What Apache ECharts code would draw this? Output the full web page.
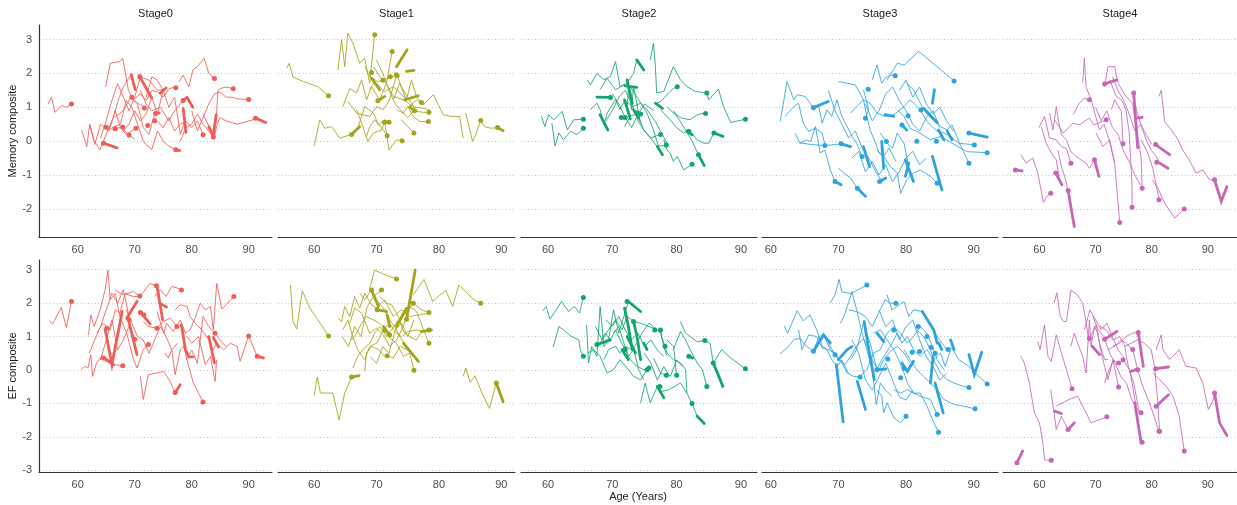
<!DOCTYPE html>
<html><head><meta charset="utf-8">
<script src="https://cdn.jsdelivr.net/npm/echarts@6/dist/echarts.min.js"></script>
<style>html,body{margin:0;padding:0;background:#fff}#main{width:1237px;height:505px}</style>
</head><body><div id="main"></div>
<script>
const stages = ['Stage0','Stage1','Stage2','Stage3','Stage4'];
const measures = ['Memory composite','EF composite'];
const xTitle = 'Age (Years)';
const stageColors = ['#EE5D56','#A4A41A','#13A66B','#2FA3DE','#C766B7'];

const memLines0 = [
 [[54.8,1.1],[55.4,1.3],[56,0.85],[57.2,1.05],[58,1.0],[58.9,1.1]],
 [[64.9,1.6],[65.7,2.3],[67.4,2.35],[67.9,2.45],[68.9,1.5],[69.8,1.2],[71.7,1.0]],
 [[60.7,0.32],[61.6,-0.16],[62.1,0.5],[62.8,0.05],[63.9,-0.26],[65.1,0.25],[66.3,0.72],[67.1,1.2],[68,1.6],[69.5,2.0]],
 [[62.2,0.45],[63,-0.1],[64,0.5],[65.5,0.3],[66.6,0.9],[67.5,0.4],[68.5,0.2],[70.2,0.38]],
 [[64,0.1],[65,0.6],[66,1.2],[67,1.7],[68,1.3],[69,0.9],[70,1.3],[71,1.9],[72.5,1.8],[74,1.5],[75.5,1.55]],
 [[66,0.4],[67.5,0.5],[68.5,1.2],[69.5,1.0],[70.5,0.5],[71.5,0.0],[72,-0.1],[73,-0.25],[74,0.3],[75,0.0],[76,-0.15],[77.2,-0.25]],
 [[70,1.25],[71,1.4],[72,1.2],[73,1.5],[74,1.45],[75,1.3],[76,1.55],[77.2,1.6]],
 [[72,1.3],[73,1.9],[74,1.8],[75,1.5],[76,1.0],[77,1.3],[78,0.2],[79,0.7]],
 [[77.8,1.75],[78.5,1.95],[79.5,1.6],[80.2,2.1],[81,2.2],[82.2,2.45],[83,2.0],[84,1.85]],
 [[74,0.6],[75,0.4],[76,0.7],[77,0.3],[78,0.5],[79,0.6],[80,0.4],[81,0.6],[82,0.2]],
 [[78,0],[79,0.4],[80,0.5],[81,0.8],[82,0.5],[83,0.3],[83.8,0.1],[84.3,0.6],[84.6,1.5],[85,1.55],[86,1.6],[87.3,1.55]],
 [[80,0.9],[81,0.3],[82,0.7],[83,1.1],[84,1.4],[85,1.45],[86,1.3],[87,1.3],[88,1.25],[90,1.23]],
 [[82,0.8],[83,0.45],[84,0.15],[84.5,0.5],[85,0.7],[86,0.6],[87,0.55],[88,0.5],[89,0.55],[91.2,0.65]],
 [[68,0.3],[69,0.5],[70,0.9],[71,0.6],[72,0.8],[73,1.3],[74,0.8],[75,1.5]],
 [[64.5,0.45],[66,0.35],[67.5,0.4],[69,0.2],[70,0.05]],
 [[71,1.5],[72,1.1],[73,0.9],[74.5,1.0],[76,0.6],[77,0.9],[78.5,1.2]],
 [[66.5,0.7],[68,0.9],[69.3,1.3],[70.5,1.1],[71.5,0.4],[72.5,0.2],[73.5,0.8]]
];
const memThick0 = [[[69.4,1.96],[70.1,1.52]],[[70.8,1.93],[73.0,1.27]],[[78.5,0.97],[79.0,0.26]],[[78.4,1.2],[79.2,1.29],[80.2,1.0]],[[64.5,-0.06],[66.9,-0.2]],[[83.0,0.43],[83.8,0.14]],[[84.3,0.78],[83.8,0.2]],[[91.2,0.68],[93.0,0.55]],[[74.5,1.42],[75.5,1.57]],[[73.5,0.83],[74.3,0.83]],[[77.2,-0.25],[77.9,-0.28]]];
const memDots0 = [[58.9,1.1],[84,1.85],[87.3,1.55],[90,1.23],[71.7,0.98],[77.2,1.58],[65,0.41],[66.6,0.37],[67.9,0.42],[70.2,0.38],[72.3,0.46],[73.5,0.6],[69,0.18],[64.5,-0.06],[77.2,-0.25],[82,0.19],[83.8,0.12],[91.2,0.68],[78.5,1.2],[73.7,0.82],[69.5,1.3],[70.9,1.9]];

const memLines1 = [
 [[55.6,2.16],[56.0,2.3],[56.6,1.89],[58.3,1.76],[60.6,1.61],[62.3,1.34]],
 [[60,-0.14],[60.9,0.63],[61.7,0.38],[62.8,0.43],[64.1,0.09],[66,0.2]],
 [[63.8,2.1],[64.4,3.0],[64.9,2.2],[65.4,3.19],[66.2,2.9],[67.3,2.3],[68.1,2.45],[68.9,1.71],[69.7,3.14]],
 [[64.6,1.02],[65.7,1.56],[66.8,1.42],[67.6,1.81],[68.4,1.22],[69.2,1.61],[70.5,1.22],[71.6,1.71],[72.5,2.65]],
 [[65.4,1.17],[66.8,0.83],[67.8,0.78],[68.9,0.73],[70,1.02],[71.1,0.93],[72.1,1.22],[73.2,1.96]],
 [[66.8,0.93],[67.6,0.53],[68.6,-0.01],[69.5,0.24],[70.8,0.33],[71.3,0.58],[72,-0.26],[73.2,0.04],[74.1,0.01]],
 [[66.9,0.33],[68.1,1.02],[69.5,0.83],[70.3,0.48],[71.3,0.63],[72,0.56]],
 [[68.4,0.14],[68.9,0.43],[69.7,0.63],[71.1,0.33],[71.7,0.16]],
 [[72.7,1.22],[73.7,1.71],[74.8,1.22],[75.6,1.81],[76.4,1.32],[77.2,1.14]],
 [[73.2,0.93],[74.3,0.83],[75,1.02],[75.9,0.73],[76.9,0.58],[78.3,0.58]],
 [[74,0.63],[75,0.43],[76,0.24]],
 [[75.3,1.02],[76.4,1.22],[77.5,1.07],[79.1,1.37],[80.7,0.78],[82,0.73],[83.3,0.73],[83.9,0.09]],
 [[84.3,0.83],[85.4,-0.01],[86,0.24],[86.7,0.61],[87.3,0.43],[88.4,0.38],[89.4,0.4]],
 [[68.9,1.52],[69.7,1.76],[70.5,1.61],[71.3,1.47],[72.7,1.61],[74.3,1.32],[75.3,1.22],[76.4,0.88],[77.5,0.85],[78.4,0.85]],
 [[69.5,2.2],[70.5,1.91],[71.6,1.71],[72.7,1.32],[74.3,1.22],[75.9,1.02],[77.5,0.97],[78.4,0.93]],
 [[68.1,2.2],[68.9,1.91],[70.2,1.76],[71,1.8],[72.2,1.9],[73.3,1.93],[74,1.6],[75,1.3]],
 [[70,2.4],[71,2.0],[72,1.5],[73,1.1],[74,0.9],[75,0.7],[76,0.9]]
];
const memThick1 = [[[69.2,1.86],[70.5,1.52]],[[73.2,2.2],[74.9,2.7]],[[74.8,2.06],[76,2.09]],[[74.5,1.22],[76.7,1.34]],[[70.5,1.22],[71.3,1.32]],[[75.3,1.02],[76.1,0.88]],[[66,0.2],[67.3,0.43]],[[89.4,0.4],[90.3,0.31]]];
const memDots1 = [[62.3,1.34],[69.7,3.14],[72.5,2.65],[73.2,1.96],[74.1,0.01],[72,0.56],[71.7,0.16],[77.2,1.14],[78.3,0.58],[76,0.24],[86.7,0.61],[89.4,0.4],[78.4,0.85],[69.2,2.03],[71,1.8],[72.2,1.9],[73.3,1.93],[70.2,1.19],[71.3,0.56],[76.1,0.9],[66,0.2]];

const memLines2 = [
 [[59,0.73],[59.5,0.43],[60.1,0.78],[60.9,0.63],[62.2,0.88],[63,0.33],[64,0.63],[65.5,0.65]],
 [[60.6,0.53],[61.1,-0.14],[61.7,0.24],[62.4,0.04],[63.5,0.29],[64.5,0.19],[65.5,0.38]],
 [[66.1,1.81],[66.6,1.66],[67.6,2.0],[68.7,1.81],[69.7,1.91],[70.5,2.35],[71.2,1.61],[72.3,1.71],[73.3,2.0],[73.8,2.4]],
 [[66.6,0.93],[67.6,1.12],[68.1,0.93],[68.7,0.48],[69.2,0.83],[70.5,1.22],[71.2,0.93],[72,1.22],[73.1,1.02],[74.4,1.12],[75.4,0.93],[76.7,0.58],[77.5,0.29],[78.5,-0.06]],
 [[68.1,1.52],[69.2,1.86],[70.5,1.52],[71.8,1.66],[72.8,1.61],[74.1,1.22],[75.4,0.83],[76.4,0.33],[77.2,-0.16]],
 [[75.9,2.4],[76.4,2.89],[76.7,2.2],[76.9,1.42],[78,1.47],[79.5,2.2],[80.6,1.81],[81.6,1.61],[82.9,1.47],[84.7,1.42],[85,1.22],[86.5,1.54],[87.3,1.02],[88.4,0.55],[90.7,0.65]],
 [[76.9,1.12],[77.5,1.17],[78.5,1.37],[79.5,1.56],[80.1,1.61]],
 [[77.5,0.93],[79,0.63],[80.1,0.38],[81.1,0.24],[81.9,0.33],[83.2,0.04],[84.2,-0.06],[85,-0.06],[85.8,0.24]],
 [[78,0.04],[78.5,-0.26],[79,-0.35],[79.5,-0.6],[80.1,-0.45],[81.1,-0.85],[82.4,-0.68]],
 [[78.5,1.02],[79.5,0.83],[80.8,0.68],[82.1,0.63],[83.2,0.78],[84.5,0.83]],
 [[71.8,1.22],[72.3,0.93],[72.5,1.56],[73,0.93],[73.3,1.61],[74.4,0.53]],
 [[71.9,0.43],[72.8,0.73],[73.8,0.83],[74.9,0.33],[75.7,0.14],[77,-0.16],[78.4,-0.11]],
 [[79.5,0.9],[80.5,0.6],[81.4,0.33],[82.4,0.0],[83.4,-0.4]],
 [[69,0.6],[70,0.9],[71,1.3],[72,1.5],[73,1.1],[74,0.6],[75,0.3],[76,0.1],[77.5,0.2]],
 [[70,1.4],[71,1.1],[72,0.7],[73,0.4],[74,0.8],[75,1.1],[76.5,0.9]]
];
const memThick2 = [[[67.6,1.3],[69.7,1.29]],[[72,1.63],[73.8,1.59]],[[72.3,1.81],[73.1,1.12]],[[73.3,0.93],[74.1,0.68]],[[73.8,2.4],[74.9,2.1]],[[68.1,0.78],[69.3,0.33]],[[76.7,1.12],[77.8,0.97]],[[77,-0.16],[77.8,-0.4]],[[85.8,0.24],[87.2,0.14]],[[83.4,-0.4],[84.3,-0.72]],[[81.6,0.29],[82.4,0.19]],[[71.9,1.22],[72.8,0.66]]];
const memDots2 = [[65.5,0.65],[65.5,0.38],[84.7,1.42],[90.7,0.65],[80.1,1.61],[84.5,0.82],[77.5,0.2],[78.4,-0.11],[82.4,-0.68],[72,0.7],[71.4,0.7],[73.8,0.83],[74.4,0.8],[81.9,0.29],[83.4,-0.4],[85.8,0.24],[69.7,1.29]];

const memLines3 = [
 [[61.4,0.58],[62.4,1.76],[63.4,1.22],[63.9,1.37],[65.1,1.32],[65.8,1.12],[66.3,0.99]],
 [[62.1,0.73],[63.4,1.02],[64.1,1.12],[64.8,0.53],[65.6,0.29],[66.6,0.38],[67.6,0.24],[68,-0.11]],
 [[63.6,0.24],[64.3,-0.06],[65.3,0.04],[65.9,-0.01],[66.6,0.43],[67.3,-0.35],[68,-0.26],[68.8,-0.85],[69.5,-1.19]],
 [[67.1,1.02],[67.6,0.53],[68.3,0.93],[69,0.73],[69.8,1.22],[70.5,0.73],[71.3,0.43],[72,0.14],[72.7,-0.06],[73.5,-0.45]],
 [[70,-0.8],[70.8,-0.94],[71.8,-1.09],[72.8,-1.39]],
 [[70,1.76],[71.3,1.71],[72.5,1.66],[73.7,1.22],[74.2,0.73],[74.7,0.33],[75.5,-0.06],[76,-0.35],[76.7,-0.45],[77.5,-0.2],[78.5,-0.6]],
 [[75,1.81],[75.7,2.25],[76.4,1.71],[76.9,1.86],[77.7,1.96],[78.4,1.93]],
 [[77.2,1.81],[78.7,2.3],[79.7,2.25],[81.9,2.65],[87.1,1.78]],
 [[71.8,0.83],[72.7,1.02],[73.7,1.22],[74.7,1.12],[75.7,0.83],[76.9,0.73],[78.2,0.78],[79.7,1.02],[80.6,1.22],[82.1,0.93],[83.1,0.58],[84.6,0.29],[85.6,0.24],[86.6,0.14],[87.8,-0.06],[90.1,-0.11]],
 [[78.7,0.93],[79.7,0.73],[80.6,0.38],[81.6,0.29],[83.6,0.04],[85.1,0.14],[86.8,-0.06],[89,-0.31],[92,-0.34]],
 [[80.1,1.71],[81.1,1.52],[82.6,0.93],[83.9,0.63],[85.1,0.43],[86.1,0.33],[86.8,0.48],[88,-0.1],[89.3,-0.65]],
 [[75.7,-0.26],[76.7,-0.45],[77.7,-0.75],[78.7,-0.94],[79.2,-1.54],[80.1,-1.14],[81.1,-0.94],[82.1,-0.85],[83.6,-1.04],[84.6,-1.24]],
 [[76.2,0.24],[77.2,-0.06],[78,-0.21],[78.7,0.24],[79.7,-0.06],[80.4,-0.75],[81.1,-1.19]],
 [[73.7,1.52],[74.5,0.93],[74,0.68]],
 [[64.3,-0.05],[66,-0.1],[68,-0.13],[70.4,-0.08]],
 [[68.5,1.5],[69.5,0.9],[70.5,0.5],[71.5,0.1],[72.5,0.3],[73.5,-0.2],[74.5,-0.5],[75.5,-0.9],[76.5,-1.2]],
 [[74,1.1],[75,0.6],[76,0.9],[77,1.4],[78,1.6],[79,1.2],[80,0.9],[81,0.5],[82,0.3],[83,0.7],[84,0.9],[85,0.4]],
 [[72,-0.5],[73,-0.3],[74,-0.9],[75,-0.6],[76,-1.0],[77,-0.7],[78,-1.2],[79,-0.9],[80,-0.5],[81,-0.3],[82,-0.7],[83,-0.5]],
 [[79,1.5],[80,1.8],[81,1.3],[82,1.6],[83,1.1],[84,0.8],[85,1.0],[86,0.6],[87,0.3]]
];
const memThick3 = [[[66.3,0.99],[68.5,1.17]],[[69.5,-1.19],[70.4,-1.29]],[[72.8,-1.39],[74,-1.63]],[[73.7,-0.16],[74.6,-0.75]],[[76.4,-0.01],[76.7,-0.8]],[[76.1,-1.19],[77,-1.09]],[[79.4,0.48],[80.1,0.33]],[[82.6,0.97],[84.6,0.55]],[[83.9,1.12],[84.2,1.52]],[[84.8,0.33],[85.6,0.04]],[[83.9,-0.45],[85.3,-1.44]],[[79.9,-0.55],[81.1,-1.19]],[[80.4,-0.65],[79.9,-1.04]],[[89.3,0.24],[92,0.12]],[[86.1,0.29],[86.8,0.04]],[[76.9,0.78],[78.2,0.73]],[[70.4,-0.08],[71.8,-0.16]]];
const memDots3 = [[66.3,0.99],[69.5,-1.19],[72.8,-1.39],[73.5,-0.45],[78.4,1.93],[87.1,1.78],[90.1,-0.11],[92,-0.34],[89.3,-0.65],[84.6,-1.24],[76.1,-1.19],[74,0.68],[68,-0.13],[70.4,-0.08],[74.4,1.53],[77.1,-0.01],[79.4,0.48],[80.3,0.75],[82.2,0.92],[89.3,0.24],[84.5,0.0],[81.6,0.0]];

const memLines4 = [
 [[56.7,-0.4],[57.6,-0.65],[58.8,-0.5],[59.7,-0.94],[60.7,-1.81],[61.3,-1.63],[62,-1.54]],
 [[59.9,0.4],[60.9,0.73],[61.8,0.09],[63,0.04],[63.9,-0.16],[64.8,-0.21],[65.6,-0.65]],
 [[60.3,0.43],[61.2,-0.06],[62.1,-0.35],[63,-0.55],[63.6,-1.19]],
 [[61.8,0.83],[62.4,0.33],[63,1.02],[63.3,0.68],[63.9,0.19],[64.8,0.04],[65.6,-0.31],[66.5,-0.45],[67.4,-0.55],[68.3,-0.65],[68.9,-0.8],[69.8,-0.55]],
 [[63.3,-0.26],[63.9,-0.75],[64.5,-1.04],[65.1,-1.46]],
 [[62.7,0.63],[64.2,0.24],[66,0.53],[67.1,0.48],[68.9,0.68],[69.7,0.48],[71.9,0.63]],
 [[66,0.78],[67.1,1.12],[68,1.27],[68.9,1.22]],
 [[67.7,1.73],[68,2.45],[68.3,1.61],[69.2,1.22],[70.7,0.33],[71.5,0.5],[72.5,0.0],[73.4,-0.65]],
 [[71.6,1.61],[72.2,2.2],[73.4,2.2],[74,1.71],[75.2,1.37],[76.6,1.12],[77.2,0.43],[78.1,-0.45],[78.3,-1.39]],
 [[72.5,1.81],[73.7,1.32],[74.6,1.22],[75.4,0.93],[76,0.24],[76.5,-1.34],[76.5,-1.95]],
 [[70.1,0.24],[71.3,-0.16],[72.5,0.04],[73.4,-0.65],[74.3,-2.4]],
 [[72.8,0.93],[73.4,1.22],[74.6,0.88],[74.9,-0.08]],
 [[81.3,1.32],[81.7,1.5],[82.3,0.58],[83.5,0.33],[84.7,0.04],[85.5,-0.26],[86.7,-0.55],[87.9,-0.94],[89.1,-0.85],[90.3,-1.14],[91.2,-1.14]],
 [[76.6,1.32],[77.8,0.63],[79,0.04],[79.9,-0.26],[80.8,-0.45],[81.4,-0.65]],
 [[78.1,0.04],[79.3,-0.35],[80.2,-0.8],[81.3,-1.73]],
 [[80.1,-1.14],[81.1,-1.39],[82.3,-1.83],[84.1,-2.27],[85.8,-2.0]],
 [[73,1.9],[74,1.5],[75,1.2],[76,0.8],[77,0.3],[78,0.5],[79,0.2],[80,-0.1]],
 [[70,1.0],[71,0.6],[72,0.9],[73,0.4],[74,0.2],[75,-0.3],[76,-0.6],[77,-1.0],[78,-1.3]]
];
const memThick4 = [[[55.7,-0.85],[56.9,-0.88]],[[62.9,-0.94],[64,-1.29]],[[65.1,-1.46],[66.2,-2.52]],[[69.8,-0.55],[70.6,-1.04]],[[71.6,1.69],[73.8,1.81]],[[76.8,1.42],[77.5,-0.2]],[[77.2,0.68],[78.3,0.7]],[[80.7,-0.1],[82,-0.26],[83.2,-0.4]],[[81.4,-0.65],[82.9,-0.8]],[[91.2,-1.14],[92.4,-1.78],[93.4,-1.34]]];
const memDots4 = [[55.7,-0.85],[62,-1.54],[65.6,-0.65],[71.9,0.63],[68.9,1.22],[78.3,-1.39],[76.5,-1.95],[74.3,-2.4],[74.9,-0.08],[81.3,-1.73],[85.8,-2.0],[91.2,-1.14],[71.6,1.69],[76.8,1.42],[80.7,-0.1],[80.9,-0.62],[69.8,-0.55],[62.9,-0.94],[65.1,-1.46]];

const efLines0 = [
 [[55,1.48],[55.6,1.38],[57.1,1.87],[58,1.27],[58.9,2.05]],
 [[60.6,0.01],[61.2,0.11],[61.8,0.06],[62.3,0.46],[62.6,-0.19],[63.3,0.21],[64.2,0.41],[65.1,0.36],[66.3,0.16],[67.9,0.13]],
 [[61.9,1.05],[62.3,1.65],[62.9,1.3],[63.9,1.8],[64.8,2.39],[65.3,2.99],[65.7,2.1],[66.6,2.29],[67.4,1.6],[68.6,1.1],[69.8,0.31],[70.4,0.06],[71.5,0.61],[72.4,0.76]],
 [[63.3,1.1],[64.5,1.4],[65.7,1.2],[66.6,1.8],[67.4,1.7],[68.3,2.29],[69.8,2.19],[70.9,2.21]],
 [[66.6,2.39],[68,2.25],[69.8,2.35],[70.9,2.2],[72.7,2.59],[73.8,2.52]],
 [[71,-0.19],[71.5,-0.88],[72.4,-0.14],[73.9,-0.09],[75.1,-0.04],[76.2,-0.34],[77.1,-0.67]],
 [[73.9,1.75],[75.1,1.1],[75.6,1.4],[76.8,1.15],[78,1.5],[78.9,1.1],[79.7,1.2],[80.6,1.55],[81.5,2.0],[82.4,1.8],[83.3,1.9],[83.8,1.2],[84.4,2.59],[85.3,1.82],[87.4,2.2]],
 [[77.1,1.8],[78,1.95],[79.2,1.9],[79.7,1.6],[80.9,1.35],[81.8,1.2],[83,0.9],[83.8,0.6],[84.4,0.8],[85.6,0.6],[86.8,0.8],[88,0.7],[88.5,0.26],[90,1.02],[91.5,0.41]],
 [[75.3,0.51],[75.9,0.36],[76.5,0.61],[77.1,-0.14],[78,0.61],[78.6,0.71],[79.4,0.16],[80.3,-0.39],[81.2,-0.69],[82,-0.96]],
 [[79.2,1.0],[80,0.8],[81.2,1.0],[82.4,0.16],[83.3,0.41],[84.1,-0.34],[84.4,0.31]],
 [[71.5,1.45],[72.4,1.3],[73.9,1.25],[75.1,1.45],[76.2,1.55],[77.4,1.3]],
 [[73.5,2.2],[74.5,2.4],[75.5,2.2],[76.5,2.5],[77.5,2.45],[78.2,2.39]],
 [[64,0.3],[65,0.9],[66,1.5],[67,0.6],[68,0.9],[69,1.3],[70,0.92]],
 [[68.5,1.8],[69.5,1.4],[70.5,1.0],[71.5,0.9],[72.5,0.5],[73.5,0.9],[74.5,1.3],[75.5,1.0],[76.5,0.6],[77.5,0.8]],
 [[62,0.5],[63,0.9],[64,1.3],[65,1.8],[66,2.3],[67,2.0],[68,2.4],[69,1.6]],
 [[79,0.3],[80,0.6],[81,0.2],[82,1.6],[83,1.3],[84,1.1],[85,0.9],[86,0.7]]
];
const efThick0 = [[[64.8,1.23],[66,0.16],[67.8,1.75]],[[68.9,1.5],[70.4,0.46]],[[68.6,1.55],[70.4,2.05]],[[70.9,1.75],[72.7,1.38]],[[73.9,2.52],[74.9,1.5]],[[74.4,2.0],[75.6,1.88]],[[78.2,1.35],[78.9,0.61],[79.5,0.39],[80.2,0.39]],[[83,1.0],[84,0.21]],[[83.8,0.97],[84.7,0.69]],[[64.5,0.36],[66.3,0.16]],[[77.1,-0.67],[78,-0.44]],[[91.5,0.41],[92.6,0.36]]];
const efDots0 = [[58.9,2.05],[67.9,0.13],[72.4,0.76],[70.9,2.21],[73.8,2.52],[78.2,2.39],[87.4,2.2],[90,1.02],[91.5,0.41],[82,-0.96],[77.1,-0.67],[73.9,1.25],[77.4,1.3],[84.1,1.1],[70,0.92],[69,1.5],[65.1,1.25],[71,1.72],[71.6,1.65],[64.5,0.36]];

const efLines1 = [
 [[56.2,2.54],[56.6,1.45],[57.2,1.23],[58.1,2.37],[59.3,1.85],[60.6,1.5],[62.3,1.02]],
 [[60,-0.76],[60.5,-0.21],[61,-0.69],[63,-0.69],[64,-1.5],[64.9,-0.69],[66,-0.21]],
 [[83.9,-0.19],[84.3,0.06],[85,-0.37],[85.8,-0.17],[86.9,-0.69],[88.1,-1.15],[89.2,-0.39]],
 [[68.9,2.44],[69.7,2.99],[71.1,2.87],[73.2,2.72]],
 [[75.9,2.25],[77.6,2.71],[79,2.05],[81.1,2.39],[82.2,1.9],[83.2,2.54],[85.5,2.12],[86.7,2.0]],
 [[63.8,1.55],[64.4,1.45],[64.9,1.9],[65.7,1.6],[66.5,2.2],[67.3,1.85],[68.1,2.3],[69.2,1.95],[70,1.85],[71.3,2.1],[72.7,1.6],[74,1.8],[75.3,1.6],[78.4,1.7]],
 [[64.6,1.2],[65.4,1.5],[66.2,1.0],[67,0.6],[68.1,0.31],[68.9,0.71],[70,0.8],[71.1,1.2],[71.9,1.0],[73.2,0.8],[74.3,0.41],[75.3,0.51],[76,-0.01]],
 [[66.2,0.06],[67,0.41],[67.8,0.61],[68.9,0.8],[69.7,1.1],[70.5,1.3],[71.6,1.0],[72.4,1.2],[73.5,1.5],[74.8,1.7],[75.9,2.0],[77.2,1.8],[78.4,1.72]],
 [[66,0.9],[66.8,1.1],[67.6,1.4],[68.4,1.6],[69.5,1.5],[70.5,1.4],[71.3,1.25],[72.1,1.4],[72.9,1.15],[74,1.0],[75.1,1.15],[76.4,1.2],[77.2,1.15],[78.4,1.2]],
 [[68.1,-0.04],[68.4,0.51],[69.2,0.71],[70.3,0.61],[71.3,0.41],[71.7,0.43],[72.7,0.36],[73.8,0.71],[74.8,0.61]],
 [[67.3,2.3],[68.1,2.1],[69.2,2.39],[70,2.1],[71.1,1.85],[72.1,1.5],[72.9,1.3],[73.7,1.0],[74.5,0.8],[75.3,0.61],[76.7,0.26]],
 [[65.7,1.4],[66.5,1.85],[67.6,1.7],[68.9,1.1],[70,1.25],[71.1,1.05],[72.1,0.71],[73.2,0.9],[74.3,1.3],[75.3,1.9],[76.4,1.75],[78.4,0.8]],
 [[70.5,2.2],[71.6,2.0],[72.4,1.95],[73.5,1.6],[74.3,1.15],[75.3,1.0],[76.4,0.9],[77.2,1.15]],
 [[64.5,1.0],[65.5,0.7],[66.5,1.3],[67.5,1.0],[68.5,1.9],[69.5,2.2],[70.8,2.39]],
 [[69,0.4],[70,0.2],[71,0.7],[72,0.5],[73,1.2],[74,1.4],[75,1.0],[76,1.5]]
];
const efThick1 = [[[69.2,2.39],[70.3,1.9]],[[70.1,1.8],[71.6,1.75]],[[71.7,1.65],[72.1,1.3]],[[73.2,1.3],[74.8,1.85]],[[76.2,2.99],[74.8,1.5]],[[74.3,0.8],[76.7,0.26]],[[77.2,1.15],[78.8,1.2]],[[66,-0.21],[67.2,-0.17]],[[89.2,-0.39],[90.3,-0.95]],[[71.1,1.3],[71.9,1.1]]];
const efDots1 = [[62.3,1.02],[73.2,2.72],[69.2,2.39],[70.8,2.39],[78.4,1.72],[78.4,1.2],[78.4,0.8],[76,-0.01],[71.7,0.43],[86.7,2.0],[89.2,-0.39],[66,-0.21],[75.9,2.0],[74.8,1.52],[72.1,1.05],[71.3,1.2],[70.1,1.8]];

const efLines2 = [
 [[59.2,1.77],[59.7,1.9],[60.3,1.52],[61.1,1.75],[62.1,2.05],[63.2,1.75],[64.1,1.9],[64.9,1.7],[65.5,2.17]],
 [[60.8,0.69],[61.7,1.3],[62.7,1.15],[63.7,1.0],[64.8,0.9],[65,0.61],[65.5,0.41]],
 [[66,1.35],[66.3,0.21],[66.8,0.7],[67.6,0.41],[68.1,1.9],[68.7,0.7],[69.4,0.9],[70.2,1.8],[71,1.1],[71.8,1.6],[72.5,2.05]],
 [[66.2,0.51],[67.1,0.61],[68.1,0.41],[69.2,-0.09],[70.2,0.01],[71.2,0.31],[72.3,0.06],[73.3,-0.19],[74.4,-0.29],[75.4,0.01]],
 [[67.4,1.3],[68.4,0.9],[69.4,1.2],[70.5,1.5],[71.5,1.2],[72.3,1.6],[73.3,1.45],[74.4,1.4],[75.7,1.3],[77,1.2],[77.5,1.2],[77.7,1.0],[78.5,0.51],[79.5,0.31],[80.6,0.21],[81.4,0.01],[81.6,-0.69],[82.4,-1.0],[83.2,-1.38]],
 [[74.4,-0.98],[75.1,-0.39],[75.9,-0.98],[77,-0.49],[77.7,-0.64],[78.8,-0.59],[80.6,-0.39],[81.6,-0.69]],
 [[80.6,1.45],[81.4,1.1],[82.1,1.0],[83.2,0.85],[84.4,0.88],[85.2,0.8],[85.7,0.21],[87,0.61],[88.4,0.36],[90.7,0.04]],
 [[79.5,0.61],[80.6,1.15],[81.4,0.9],[82.1,0.61],[83.2,0.21],[84,0.01],[84.7,-0.49]],
 [[78.5,0.9],[79.5,0.71],[79.7,0.41],[80,-0.16]],
 [[76.4,0.36],[77.5,-0.09],[78.4,-0.16]],
 [[68.1,0.8],[68.9,1.1],[69.7,0.9],[70.5,1.2],[71.2,0.9],[72,0.61],[72.8,0.31],[73.8,0.11],[74.9,0.01],[75.7,0.06]],
 [[68.7,0.31],[69.4,0.61],[70.5,0.71],[71.2,0.51],[72,0.71],[73.1,0.61],[73.8,0.8],[74.6,1.1],[75.7,1.4],[76.7,1.25],[77.5,1.1],[78,0.71],[78.5,0.41]],
 [[70.2,1.1],[71,1.3],[71.8,0.8],[72.5,0.41],[73.3,0.61],[74.1,0.01],[74.9,-0.29]],
 [[69,1.5],[70,1.3],[71,1.6],[72,1.2],[73,0.9],[74,1.1],[75,0.7],[76,0.9],[77,0.6],[78,0.4]],
 [[75,0.5],[76,0.2],[77,-0.3],[78,0.1],[79,-0.2],[80,0.3],[81,0.1]]
];
const efThick2 = [[[71.9,1.85],[72.5,1.3],[73.1,0.61]],[[73.3,1.45],[73.8,1.05],[74.4,0.31]],[[72.5,2.05],[74.4,1.75]],[[67.6,0.76],[69.7,0.9]],[[71.5,0.61],[72.5,0.31]],[[74.9,0.8],[75.4,0.61]],[[85.7,0.21],[87.2,-0.49]],[[77,-0.49],[78,-0.83]],[[83.2,-1.38],[84.3,-1.6]],[[81.9,0.41],[82.5,0.36]],[[72.3,1.0],[73.6,0.51]]];
const efDots2 = [[65.5,2.17],[65.5,0.41],[72.3,2.05],[75.4,0.01],[77.5,1.2],[82.4,-1.0],[84.4,0.88],[90.7,0.04],[84.7,-0.49],[80,-0.16],[78.4,-0.16],[77.4,-0.49],[75.7,0.06],[78.2,0.71],[67.6,0.76],[72,0.61],[73.3,1.45],[81.9,0.41],[85.7,0.21],[76.6,1.2]];

const efLines3 = [
 [[61.4,0.49],[62.4,0.66],[63.4,0.9],[64.3,0.95],[65.3,0.71],[66.3,0.56]],
 [[62,1.32],[62.5,1.1],[63.9,1.77],[64.8,1.47],[65.8,1.65],[66.8,1.2],[67.6,0.71],[68.3,0.61],[69,0.31],[69.8,0.11],[70.5,0.3],[71.5,-0.1]],
 [[64.1,1.2],[64.6,0.61],[65.6,1.05],[66.8,1.0],[67.6,0.66],[68.5,0.61],[69.5,0.51],[70.5,0.21],[71.3,-0.09],[72.2,-0.19],[73.2,-0.21]],
 [[67.2,0.87],[68,1.02],[68.8,0.71],[69.5,0.46]],
 [[68.8,2.0],[69.5,2.25],[70.1,2.71],[70.5,2.34],[71.8,2.29],[72.8,2.39],[74.2,2.54]],
 [[70.3,1.4],[71,1.7],[72,2.34],[72.7,1.8],[73.5,1.1],[74.2,0.61],[75,0.01],[75.6,-1.03],[76.2,-0.39],[76.9,-0.59],[77.9,-0.78]],
 [[71.5,1.8],[72.7,1.75],[74,1.6],[75,1.3],[75.7,1.6],[76.9,2.1],[77.7,2.0],[78.5,2.0]],
 [[77.2,2.25],[77.9,1.8],[78.7,1.9],[79.7,2.05],[80.4,1.6],[81.1,1.8],[82.4,1.75],[83.4,1.4],[84.3,1.1],[85.3,0.8],[86.1,0.61],[86.8,0.66],[87.8,0.31],[89.3,0.11],[90.2,-0.09],[92,-0.42]],
 [[75.2,1.1],[76.2,1.2],[77.2,0.9],[78.2,0.61],[78.9,0.31],[79.7,-0.09],[80.2,-0.39],[81.1,-0.69],[82.1,-0.78],[83.6,-0.88],[84.6,-1.33]],
 [[75.7,-0.59],[76.4,-0.78],[76.7,-1.28],[77.2,-0.98],[78.2,-1.43],[79.2,-1.58],[80,-1.38]],
 [[78.2,-0.59],[79.2,-0.69],[80.2,-0.59],[81.1,-0.69],[82.1,-0.69],[83.1,-1.08],[83.9,-1.48],[84.8,-1.86]],
 [[81.6,1.2],[82.6,1.0],[83.6,0.61],[84.3,0.21],[85.1,-0.09],[86.1,-0.29],[87.1,-0.39],[88.5,-0.49],[89.3,-0.52]],
 [[79.7,0.61],[80.6,0.31],[81.6,0.01],[82.6,-0.19],[83.6,-0.39],[84.6,-0.59],[85.6,-0.88],[87.1,-1.03],[88.5,-1.08],[90.2,-1.16]],
 [[66.3,0.56],[67.1,1.0],[67.8,1.05],[68.8,0.61],[70,0.31],[71,0.16],[71.8,0.41],[72.7,0.71],[73.7,0.95],[74.5,0.61],[75.2,0.21],[76,0.01],[76.7,0.31],[77.7,0.56],[78.7,0.71],[79.7,0.51],[80.6,0.21]],
 [[71.8,0.31],[72.7,0.61],[73.7,1.4],[74.7,0.8],[75.7,0.01],[76.4,0.31],[77.7,0.71],[78.7,1.1],[79.4,0.8],[80.2,1.0],[81.1,0.61],[82.1,0.41],[83.1,0.61],[84.1,0.31],[85.1,0.51],[85.8,0.11],[86.6,0.61]],
 [[73.2,-0.19],[74.2,0.01],[75.2,0.51],[76.2,0.61],[77.2,1.1],[78.2,1.3],[79.2,1.1],[80.2,0.8],[81.1,1.0],[82.1,1.3],[83.1,1.1],[83.9,0.71],[84.6,0.31],[85.6,0.01]],
 [[76,1.8],[77,1.3],[78,1.5],[79,0.9],[80,1.3],[81,1.5],[82,0.9],[83,0.4],[84,0.1],[85,-0.3],[86,-0.1]],
 [[72,0.9],[73,0.5],[74,-0.3],[75,-0.6],[76,-0.2],[77,0.2],[78,-0.3],[79,-0.8],[80,-0.9],[81,-0.6]]
];
const efThick3 = [[[69.7,0.16],[70.7,-1.55]],[[72.8,-0.34],[74,-1.18]],[[73.8,1.45],[74.5,0.61],[75.3,-0.29]],[[75.7,1.1],[76.7,0.85]],[[66.3,0.56],[67.8,1.05],[68.8,0.81]],[[70,0.31],[71.3,0.61],[72,0.7]],[[79.4,0.21],[80.2,-0.04],[81.1,0.26]],[[82.4,1.75],[84.1,1.2],[84.6,0.8]],[[84.3,-0.39],[85.5,-1.28]],[[83.6,-0.39],[84,0.41]],[[89.3,0.46],[90.1,-0.14],[91.2,0.53]],[[86.6,0.9],[87.1,0.61]],[[84.8,0.81],[85.3,0.61]],[[76,0.01],[77,0.03]]];
const efDots3 = [[66.3,0.56],[74.2,2.54],[78.5,2.0],[92,-0.42],[84.6,-1.33],[80,-1.38],[84.8,-1.86],[89.3,-0.52],[90.2,-1.16],[73.2,-0.21],[69.5,0.46],[75.7,0.01],[83.1,1.0],[81.8,1.3],[79.2,-0.23],[80.9,0.53],[77.3,0.33],[84.3,0.5],[86.2,0.61],[78.2,1.2],[82,0.55],[79.7,0.05],[83.7,0.67]];

const efLines4 = [
 [[56.7,0.41],[57.3,0.21],[58.2,-0.39],[59.1,-1.28],[60,-1.58],[60.6,-2.18],[60.9,-2.69],[62.1,-2.7]],
 [[59.7,0.85],[60.1,0.61],[60.9,1.35],[61.5,0.41],[62.1,0.26],[63,1.05],[63.9,0.51],[64.8,0.01],[65.8,-0.56]],
 [[62,-0.59],[62.6,-1.28],[63,-1.78],[63.9,-1.38],[64.5,-1.58],[65.1,-1.78]],
 [[62.6,2.0],[63.1,2.31],[63.7,1.6],[64.3,1.45],[64.8,1.45],[65.6,2.39],[66.8,2.24],[67.7,2.0],[68.3,1.45],[68.8,0.85],[69.2,1.05],[70.1,1.35],[70.7,0.8],[71.6,0.31],[72.2,0.31]],
 [[63,-1.08],[65.3,-0.88],[66.8,-0.78],[68,-1.18],[69.2,-1.58],[72,-1.4]],
 [[65.6,0.71],[66.2,1.1],[67,0.71],[67.7,0.41],[68.3,-0.09],[68.9,1.5],[69.2,0.71],[69.8,1.3],[70.4,1.1],[71,0.51],[71.6,0.11],[72.2,-0.29],[73.1,0.31],[74.1,-0.51]],
 [[70.7,1.32],[71.9,1.2],[73.1,0.9],[74.3,1.0],[75.2,0.71],[75.7,0.21],[76.3,-0.19],[77,-0.88],[77.5,-1.68],[77.8,-1.78],[78.3,-2.16]],
 [[72.2,0.61],[73.4,0.71],[74.6,0.9],[75.4,0.8],[76.6,0.61],[77.5,0.01],[78.4,-0.49],[79.6,-0.98],[80.8,-1.58],[81.3,-1.83]],
 [[71.6,-0.39],[72.2,-0.09],[73.2,0.31],[74,0.16],[74.9,0.31],[76,0.01],[76.8,-0.39],[77.8,-1.28]],
 [[73.1,0.71],[74.3,0.8],[75.4,1.0],[76.6,1.1],[77.6,1.12]],
 [[75.2,0.71],[76.3,0.8],[77.5,0.9],[78.7,0.8],[79.9,0.61],[80.5,0.11],[81.1,-0.98],[81.4,-1.83]],
 [[80.8,0.61],[81.7,1.05],[82,0.61],[83.2,0.31],[84.9,0.61],[86.1,0.11],[87.9,0.06],[89.1,-0.39],[90.1,-1.18],[90.9,-0.93],[91.2,-0.69]],
 [[80.2,-0.09],[81.4,-0.29],[82.6,-0.49],[83.8,-0.78],[84.9,-1.38],[85.8,-2.42]],
 [[69.5,1.6],[70.5,1.2],[71.5,1.0],[72.5,0.5],[73.5,0.2],[74.5,-0.2],[75.5,-0.4],[76.5,-0.9],[77.5,-1.2]],
 [[68,1.2],[69,1.8],[70,1.5],[71,1.2],[72,1.4],[73,1.0],[74,0.6],[75,0.4]]
];
const efThick4 = [[[56,-2.77],[57,-2.42]],[[62.7,-1.23],[63.9,-1.3]],[[65.1,-1.78],[66.2,-1.58]],[[69.4,0.71],[70.7,0.46]],[[71.6,0.92],[73.8,1.15]],[[77.6,1.12],[78.5,0.11]],[[77,-0.98],[78.1,-2.18]],[[76.3,-0.04],[77.2,0.01]],[[80.7,0.04],[83,0.09]],[[80.8,-1.08],[83,-0.74]],[[91.2,-0.69],[92.1,-1.58],[93.4,-1.96]]];
const efDots4 = [[56,-2.77],[62.1,-2.7],[65.8,-0.56],[65.1,-1.78],[72,-1.4],[74.1,-0.51],[78.3,-2.16],[81.3,-1.83],[74.9,0.31],[77.6,1.12],[81.4,-1.83],[91.2,-0.69],[85.8,-2.42],[68.9,0.95],[71.6,0.92],[74.1,0.21],[80.7,0.04],[80.8,-1.08],[78.1,-1.28],[76.6,0.61],[77.5,0.01]];

const panelLines = [[memLines0,memLines1,memLines2,memLines3,memLines4],[efLines0,efLines1,efLines2,efLines3,efLines4]];
const panelThick = [[memThick0,memThick1,memThick2,memThick3,memThick4],[efThick0,efThick1,efThick2,efThick3,efThick4]];
const panelDots = [[memDots0,memDots1,memDots2,memDots3,memDots4],[efDots0,efDots1,efDots2,efDots3,efDots4]];

// layout
const colLeft = [39, 278, 521, 762, 1003];
const colWidth = [233, 237, 236, 236, 234];
const rowTop = [25, 260];
const rowHeight = 212;
const xMin = [53.2, 54.2, 55.8, 58.7, 53.5];
const xMax = [94.1, 92.2, 92.5, 93.6, 95.2];
const yMin = [-2.83, -3.05];
const yMax = [3.43, 3.29];

const FONT = 'Liberation Sans, Arial, sans-serif';
const grid = [], xAxis = [], yAxis = [], series = [];
for (let r = 0; r < 2; r++) {
  for (let c = 0; c < 5; c++) {
    const g = r * 5 + c;
    grid.push({left: colLeft[c], top: rowTop[r], width: colWidth[c], height: rowHeight, containLabel: false});
    xAxis.push({
      type: 'value', gridIndex: g, min: xMin[c], max: xMax[c], splitNumber: 4,
      axisLine: {show: true, onZero: false, lineStyle: {color: '#333', width: 1.2}},
      axisTick: {show: false},
      axisLabel: {show: true, showMinLabel: false, showMaxLabel: false, color: '#4d4d4d', fontSize: 11, fontFamily: FONT, margin: 7},
      splitLine: {show: false}
    });
    yAxis.push({
      type: 'value', gridIndex: g, min: yMin[r], max: yMax[r],
      name: c === 0 ? measures[r] : '', nameLocation: 'middle', nameGap: 18, nameRotate: 90,
      nameTextStyle: {color: '#1a1a1a', fontSize: 11, fontFamily: FONT},
      axisLine: {show: c === 0, lineStyle: {color: '#333', width: 1.2}},
      axisTick: {show: false},
      axisLabel: {show: c === 0, showMinLabel: false, showMaxLabel: false, color: '#4d4d4d', fontSize: 11, fontFamily: FONT, margin: 7},
      splitLine: {show: true, showMinLine: false, showMaxLine: false, lineStyle: {color: '#c4c4c4', width: 1, type: [1, 2.5]}}
    });
    const col = stageColors[c];
    series.push({
      type: 'lines', coordinateSystem: 'cartesian2d', xAxisIndex: g, yAxisIndex: g, polyline: true, silent: true,
      data: panelLines[r][c].map(p => ({coords: p})),
      lineStyle: {color: col, width: 1, opacity: 0.85}, z: 2
    });
    series.push({
      type: 'lines', coordinateSystem: 'cartesian2d', xAxisIndex: g, yAxisIndex: g, polyline: true, silent: true,
      data: panelThick[r][c].map(p => ({coords: p})),
      lineStyle: {color: col, width: 2.8, opacity: 1, cap: 'round'}, z: 3
    });
    series.push({
      type: 'scatter', xAxisIndex: g, yAxisIndex: g, silent: true,
      data: panelDots[r][c], symbolSize: 5, itemStyle: {color: col, opacity: 1}, z: 4
    });
  }
}
const graphic = stages.map((s, c) => ({
  type: 'text', x: colLeft[c] + colWidth[c] / 2, y: 14,
  style: {text: s, fill: '#1a1a1a', font: '11px ' + FONT, textAlign: 'center', textVerticalAlign: 'middle', align: 'center', verticalAlign: 'middle'}
}));
graphic.push({
  type: 'text', x: (colLeft[0] + colLeft[4] + colWidth[4]) / 2, y: 497,
  style: {text: xTitle, fill: '#1a1a1a', font: '11px ' + FONT, textAlign: 'center', textVerticalAlign: 'middle', align: 'center', verticalAlign: 'middle'}
});

const chart = echarts.init(document.getElementById('main'), null, {renderer: 'canvas'});
chart.setOption({animation: false, backgroundColor: '#fff', grid, xAxis, yAxis, series, graphic});
</script></body></html>
